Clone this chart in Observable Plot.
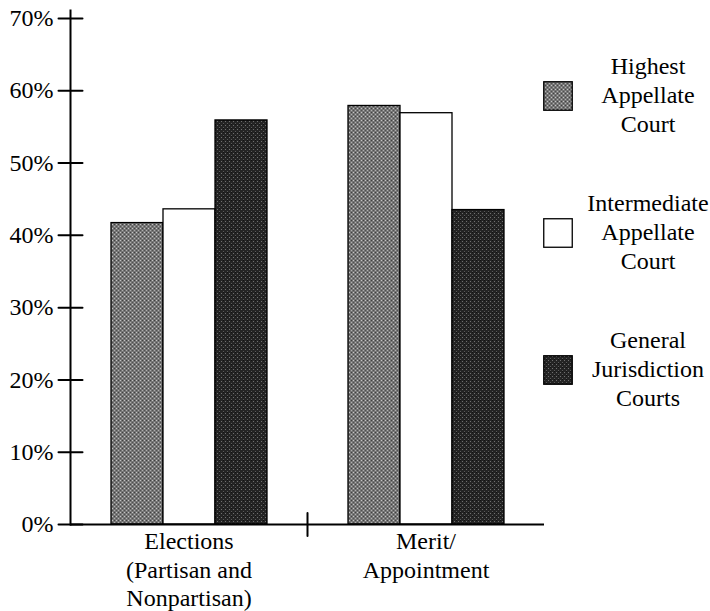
<!DOCTYPE html>
<html>
<head>
<meta charset="utf-8">
<script src="https://cdn.jsdelivr.net/npm/d3@7"></script>
<script src="https://cdn.jsdelivr.net/npm/@observablehq/plot@0.6"></script>
<style>
  html, body { margin: 0; padding: 0; background: white; }
  #wrap { position: relative; width: 710px; height: 611px; font-family: "Liberation Serif", "Times New Roman", serif; }
  #legend { position: absolute; left: 543px; top: 52px; display: flex; flex-direction: column; gap: 50px; }
  .item { display: flex; align-items: center; height: 87px; }
  .item svg { display: block; }
  .lab { width: 130px; margin-left: 10px; text-align: center; font-size: 24px; line-height: 29px; color: black; white-space: pre; }
</style>
</head>
<body>
<div id="wrap"></div>
<script>
// ---- data ----
const groups = ["Elections", "Merit"];
const groupLabels = ["Elections\n(Partisan and\nNonpartisan)", "Merit/\nAppointment"];
const series = ["Highest Appellate Court", "Intermediate Appellate Court", "General Jurisdiction Courts"];
const seriesLabels = ["Highest\nAppellate\nCourt", "Intermediate\nAppellate\nCourt", "General\nJurisdiction\nCourts"];
const electionsValues = [41.7, 43.6, 55.9];
const meritValues = [57.9, 56.9, 43.5];
const yTicks = [0, 10, 20, 30, 40, 50, 60, 70];

const groupValues = [electionsValues, meritValues];
const data = [];
groups.forEach((g, gi) => series.forEach((s, si) => data.push({group: g, series: s, value: groupValues[gi][si]})));
const yTickData = yTicks.map(v => ({v, group: groups[0]}));
const midTick = [{group: groups[1]}];

const fills = ["url(#pHigh)", "white", "url(#pGen)"];
const lineShape = {draw(context, l) { context.moveTo(0, 0); context.lineTo(0, -l); }};
const serif = "'Liberation Serif', 'Times New Roman', serif";

const plot = Plot.plot({
  width: 710,
  height: 611,
  marginLeft: 70,
  marginRight: 166,
  marginTop: 18,
  marginBottom: 87,
  style: {fontFamily: serif, fontSize: "24px", color: "black", background: "white", overflow: "visible"},
  fx: {domain: groups, padding: 0, label: null},
  x: {domain: series, paddingInner: 0, paddingOuter: 0.736, axis: null, label: null},
  y: {domain: [0, 70], label: null},
  color: {domain: series, range: fills},
  marks: [
    Plot.barY(data, {fx: "group", x: "series", y: "value", fill: "series", stroke: "black", strokeWidth: 1.3}),
    Plot.ruleY([0], {stroke: "black", strokeWidth: 2}),
    Plot.frame({anchor: "left", facetAnchor: "left", insetTop: -8, stroke: "black", strokeWidth: 2}),
    Plot.vector(yTickData, {fx: "group", y: "v", frameAnchor: "left", rotate: 90, anchor: "middle", length: 24, shape: lineShape, stroke: "black", strokeWidth: 2}),
    Plot.vector(midTick, {fx: "group", frameAnchor: "bottom-left", rotate: 0, anchor: "middle", length: 23, shape: lineShape, stroke: "black", strokeWidth: 2}),
    Plot.axisY({ticks: yTicks, tickFormat: d => d + "%", tickSize: 0, tickPadding: 17, fontSize: 24, fontFamily: serif, label: null}),
    Plot.axisFx({anchor: "bottom", tickSize: 0, tickPadding: 5, tickFormat: d => groupLabels[groups.indexOf(d)], lineHeight: 1.17, fontSize: 24, fontFamily: serif, label: null})
  ]
});

// texture patterns
const svg = d3.select(plot);
const defs = svg.insert("defs", ":first-child");
const p1 = defs.append("pattern").attr("id", "pHigh").attr("patternUnits", "userSpaceOnUse").attr("width", 4).attr("height", 4);
p1.append("rect").attr("width", 4).attr("height", 4).attr("fill", "#767676");
p1.append("rect").attr("x", 0).attr("y", 0).attr("width", 1).attr("height", 1).attr("fill", "#c4c4c4");
p1.append("rect").attr("x", 2).attr("y", 2).attr("width", 1).attr("height", 1).attr("fill", "#b0b0b0");
p1.append("rect").attr("x", 2).attr("y", 0).attr("width", 1).attr("height", 1).attr("fill", "#404040");
p1.append("rect").attr("x", 0).attr("y", 2).attr("width", 1).attr("height", 1).attr("fill", "#505050");
const p2 = defs.append("pattern").attr("id", "pGen").attr("patternUnits", "userSpaceOnUse").attr("width", 4).attr("height", 4);
p2.append("rect").attr("width", 4).attr("height", 4).attr("fill", "#242424");
p2.append("rect").attr("x", 1).attr("y", 1).attr("width", 1).attr("height", 1).attr("fill", "#707070");
p2.append("rect").attr("x", 3).attr("y", 3).attr("width", 1).attr("height", 1).attr("fill", "#5a5a5a");
p2.append("rect").attr("x", 3).attr("y", 0).attr("width", 1).attr("height", 1).attr("fill", "#111");

const wrap = document.getElementById("wrap");
wrap.appendChild(plot);

// legend
const legend = d3.select(wrap).append("div").attr("id", "legend");
series.forEach((s, i) => {
  const item = legend.append("div").attr("class", "item");
  const sw = item.append("svg").attr("width", 30).attr("height", 30);
  sw.append("rect").attr("x", 0.75).attr("y", 0.75).attr("width", 28.5).attr("height", 28.5)
    .attr("fill", fills[i]).attr("stroke", "black").attr("stroke-width", 1.3);
  item.append("div").attr("class", "lab").text(seriesLabels[i]);
});
</script>
</body>
</html>
